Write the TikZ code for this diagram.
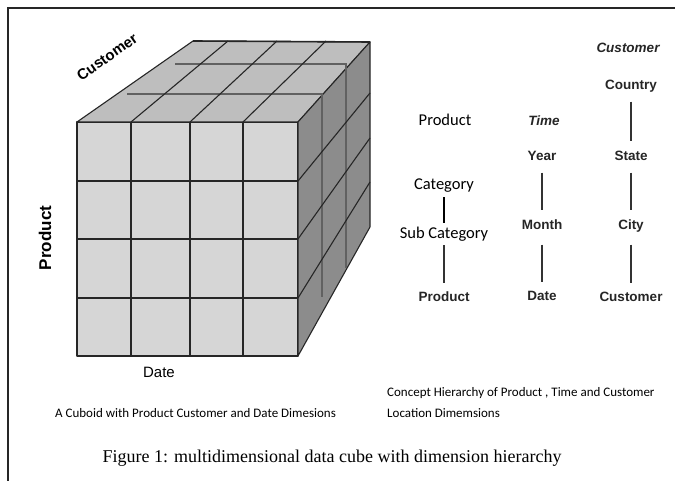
\documentclass[tikz,border=0pt]{standalone}
\usepackage{fontspec}
\setmainfont{Liberation Serif}
\setsansfont{Liberation Sans}
\newfontfamily\calibri{Carlito}
\usepackage{tikz}
\usetikzlibrary{positioning}

\definecolor{frontgray}{RGB}{214,214,214}
\definecolor{topgray}{RGB}{190,190,190}
\definecolor{sidegray}{RGB}{140,140,140}

\tikzset{
  cubeline/.style={draw=black!85, line width=1.1pt, line join=round},
  slice/.style={draw=black!62, line width=2.4pt},
  axislabel/.style={font=\sffamily\bfseries\fontsize{15}{18}\selectfont, inner sep=0pt},
  level/.style={font=\sffamily\bfseries\fontsize{13.5}{16}\selectfont, text height=10pt, text depth=3pt, inner sep=0pt, text=black!85},
  catlevel/.style={font=\calibri\fontsize{16.5}{19}\selectfont, text height=12pt, text depth=4pt, inner sep=0pt},
  link/.style={draw=black!80, line width=1.3pt, shorten <=9pt, shorten >=9pt},
  note/.style={font=\calibri\fontsize{13}{15}\selectfont, inner sep=0pt, anchor=west},
}

\begin{document}
\begin{tikzpicture}[x=1pt, y=-1pt]
\useasboundingbox[fill=white] (0,0) rectangle (675,481);
\draw[black!85, line width=2.5pt] (8,481) -- (8,8) -- (675,8);

% cube: front, top and right faces
\coordinate (c) at (77,122);
\filldraw[cubeline, fill=frontgray] (c) rectangle ([shift={(221,234)}]c);
\filldraw[cubeline, fill=topgray] (c) -- (193,41) -- (370,42) -- ([shift={(221,0)}]c) -- cycle;
\filldraw[cubeline, fill=sidegray] ([shift={(221,0)}]c) -- (370,42) -- (370,227) -- ([shift={(221,234)}]c) -- cycle;

\draw[slice] (127,94) -- (322,94) -- (322,297);
\draw[slice] (175,64) -- (346,64) -- (346,268);
\draw[cubeline, line width=1.6pt] (193,41) -- (370,42);

\draw[cubeline] ([shift={(54,0)}]c) -- ([shift={(54,234)}]c);
\draw[cubeline] ([shift={(113,0)}]c) -- ([shift={(113,234)}]c);
\draw[cubeline] ([shift={(166,0)}]c) -- ([shift={(166,234)}]c);
\draw[cubeline] ([shift={(0,59)}]c) -- ([shift={(221,59)}]c);
\draw[cubeline] ([shift={(0,117)}]c) -- ([shift={(221,117)}]c);
\draw[cubeline] ([shift={(0,176)}]c) -- ([shift={(221,176)}]c);

\draw[cubeline] ([shift={(54,0)}]c) -- (228,41);
\draw[cubeline] ([shift={(113,0)}]c) -- (277,41);
\draw[cubeline] ([shift={(166,0)}]c) -- (326,41);

\draw[cubeline] ([shift={(221,59)}]c) -- (370,93);
\draw[cubeline] ([shift={(221,117)}]c) -- (370,138);
\draw[cubeline] ([shift={(221,176)}]c) -- (370,182);

\node[axislabel, rotate=35] (custaxis) at (107,57) {Customer};
\node[axislabel, rotate=90, font=\sffamily\bfseries\fontsize{17}{20}\selectfont] (prodaxis) at (45,238) {Product};
\node[axislabel, font=\sffamily\fontsize{15}{18}\selectfont] (dateaxis) at (159,372) {Date};
\node[note] (cubenote) at (55,413) {A Cuboid with Product Customer and Date Dimesions};

% product hierarchy
\node[catlevel] (prodhead) at (445,122) {Product};
\node[catlevel] (category) at (444,186) {Category};
\node[catlevel] (subcat) at (444,235) {Sub Category};
\node[level] (product) at (444,298) {Product};
\draw[link, draw=black, line width=1.8pt, shorten <=3pt, shorten >=4pt] (category) -- (subcat);
\draw[link, shorten <=2pt, shorten >=8pt] (subcat) -- (product);

% time hierarchy
\node[level, font=\sffamily\bfseries\itshape\fontsize{13.5}{16}\selectfont] (timehead) at (544,122) {Time};
\node[level] (year) at (542,157) {Year};
\node[level] (month) at (542,226) {Month};
\node[level] (date) at (542,297) {Date};
\draw[link] (year) -- (month);
\draw[link, shorten <=12pt, shorten >=8pt] (month) -- (date);

% customer hierarchy
\node[level, font=\sffamily\bfseries\itshape\fontsize{13.5}{16}\selectfont] (custhead) at (628,49) {Customer};
\node[level] (country) at (631,86) {Country};
\node[level] (state) at (631,157) {State};
\node[level] (city) at (631,226) {City};
\node[level] (customer) at (631,298) {Customer};
\draw[link] (country) -- (state);
\draw[link] (state) -- (city);
\draw[link, shorten <=12pt, shorten >=8pt] (city) -- (customer);

\node[note] (hiernote) at (387,393) {Concept Hierarchy of Product , Time and Customer};
\node[note] (locnote) at (387,413) {Location Dimemsions};

\node[font=\rmfamily\fontsize{18}{21}\selectfont, inner sep=0pt] (caption) at (332,458) {Figure 1: multidimensional data cube with dimension hierarchy};
\end{tikzpicture}
\end{document}
